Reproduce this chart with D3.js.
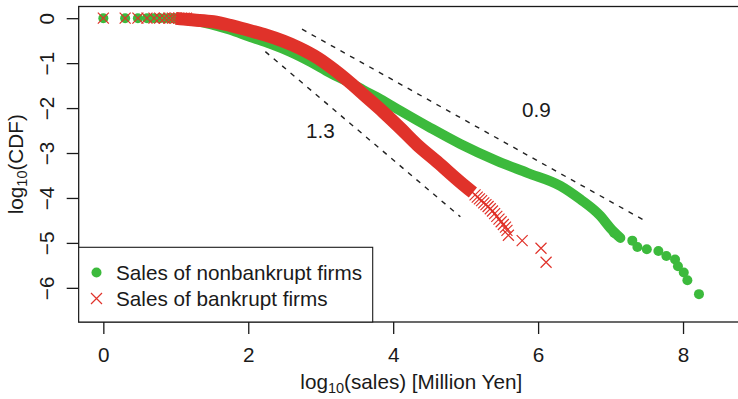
<!DOCTYPE html>
<html>
<head>
<meta charset="utf-8">
<script src="https://cdn.jsdelivr.net/npm/d3@7"></script>
<style>
  html, body { margin: 0; padding: 0; background: #ffffff; }
  svg { display: block; }
  text { font-family: "Liberation Sans", Arial, Helvetica, sans-serif; fill: #1a1a1a; }
</style>
</head>
<body>
<svg id="chart" width="738" height="399"></svg>
<script>
// ---- data: log10(sales) vs log10(CDF) ----
// smallest sales values (1, 2, 3, ... million yen) shared by both groups
const headX = [0, 0.301, 0.477, 0.602, 0.699, 0.778, 0.845, 0.903, 0.954, 1.0, 1.041, 1.079, 1.114, 1.146];
const headY = [0, 0, 0, 0, 0, 0, 0, 0, 0, 0, 0, 0, 0, 0];

// nonbankrupt firms: dense body and sparse upper tail
const greenBodyX = [1.0, 1.201, 1.477, 1.753, 2.029, 2.305, 2.581, 2.857, 3.133, 3.409, 3.588, 3.823, 4.099, 4.513, 4.927, 5.438, 5.851, 6.307, 6.583, 6.859, 6.997, 7.135];
const greenBodyY = [-0.01, -0.04, -0.13, -0.26, -0.42, -0.57, -0.75, -0.97, -1.22, -1.44, -1.60, -1.80, -2.06, -2.44, -2.80, -3.18, -3.44, -3.73, -4.03, -4.40, -4.67, -4.89];
const greenTailX = [7.05, 7.30, 7.37, 7.50, 7.66, 7.77, 7.89, 7.93, 8.01, 8.06, 8.22];
const greenTailY = [-4.78, -4.95, -5.09, -5.14, -5.18, -5.29, -5.37, -5.52, -5.66, -5.83, -6.14];

// bankrupt firms: dense body and sparse upper tail
const redBodyX = [1.0, 1.063, 1.25, 1.518, 1.75, 2.029, 2.25, 2.484, 2.70, 2.953, 3.18, 3.409, 3.64, 3.864, 4.10, 4.333, 4.610, 4.927, 5.10];
const redBodyY = [-0.005, -0.016, -0.04, -0.08, -0.16, -0.28, -0.38, -0.51, -0.66, -0.88, -1.14, -1.44, -1.77, -2.09, -2.45, -2.82, -3.20, -3.65, -3.88];
const redTailX = [5.13, 5.16, 5.19, 5.22, 5.25, 5.28, 5.31, 5.34, 5.37, 5.40, 5.43, 5.46, 5.49, 5.52, 5.55, 5.57, 5.59, 5.78, 6.04, 6.11];
const redTailY = [-3.93, -3.98, -4.02, -4.06, -4.11, -4.15, -4.19, -4.24, -4.29, -4.35, -4.41, -4.47, -4.53, -4.59, -4.65, -4.72, -4.83, -4.95, -5.12, -5.43];

// reference power-law slopes
const guideLabels = ["1.3", "0.9"];
const guideX1 = [2.236, 2.742];
const guideY1 = [-0.744, -0.245];
const guideX2 = [4.927, 7.457];
const guideY2 = [-4.419, -4.492];
const guideLabelX = [2.995, 5.976];
const guideLabelY = [-2.66, -2.20];

const xTicks = [0, 2, 4, 6, 8];
const yTicks = [0, -1, -2, -3, -4, -5, -6];

const seriesNames = ["Sales of nonbankrupt firms", "Sales of bankrupt firms"];

// ---- layout ----
const GREEN = "#3cba3c";
const RED = "#e0322a";
const INK = "#1a1a1a";
const FONT = 20.7;
const SUB = 14.5;
const box = { left: 78.7, right: 743.9, top: 6.5, bottom: 322 };

const svg = d3.select("#chart");
const x = d3.scaleLinear().domain([-0.34, 8.84]).range([box.left, box.right]);
const y = d3.scaleLinear().domain([0.26, -6.76]).range([box.top, box.bottom]);

svg.append("defs").append("clipPath").attr("id", "plotClip")
  .append("rect")
  .attr("x", box.left).attr("y", box.top)
  .attr("width", box.right - box.left).attr("height", box.bottom - box.top);

const plot = svg.append("g").attr("clip-path", "url(#plotClip)");

const zip = (xs, ys) => xs.map((v, i) => [v, ys[i]]);
const line = d3.line().x(d => x(d[0])).y(d => y(d[1])).curve(d3.curveMonotoneX);

const R_DOT = 5;
const CROSS = 5.5;
const crossPath = `M${-CROSS},${-CROSS}L${CROSS},${CROSS}M${-CROSS},${CROSS}L${CROSS},${-CROSS}`;

// nonbankrupt firms (filled dots); the dense body merges into a solid band
const greenHead = zip(headX, headY);
const greenBody = zip(greenBodyX, greenBodyY);
const greenTail = zip(greenTailX, greenTailY);
plot.append("path")
  .attr("d", line(greenBody))
  .attr("fill", "none").attr("stroke", GREEN)
  .attr("stroke-width", 2 * R_DOT).attr("stroke-linecap", "round").attr("stroke-linejoin", "round");
plot.append("g").selectAll("circle")
  .data(greenHead.concat(greenTail))
  .join("circle")
  .attr("cx", d => x(d[0])).attr("cy", d => y(d[1]))
  .attr("r", R_DOT).attr("fill", GREEN);

// bankrupt firms (crosses); the dense body merges into a solid band
const redHead = zip(headX, headY);
const redBody = zip(redBodyX, redBodyY);
const redTail = zip(redTailX, redTailY);
plot.append("path")
  .attr("d", line(redBody))
  .attr("fill", "none").attr("stroke", RED)
  .attr("stroke-width", 13).attr("stroke-linecap", "butt").attr("stroke-linejoin", "round");
plot.append("g").selectAll("path")
  .data(redHead.concat(redTail))
  .join("path")
  .attr("transform", d => `translate(${x(d[0])},${y(d[1])})`)
  .attr("d", crossPath)
  .attr("fill", "none").attr("stroke", RED).attr("stroke-width", 1.2);

// slope guides
const guides = guideLabels.map((t, i) => ({ t, x1: guideX1[i], y1: guideY1[i], x2: guideX2[i], y2: guideY2[i], lx: guideLabelX[i], ly: guideLabelY[i] }));
svg.append("g").selectAll("line")
  .data(guides).join("line")
  .attr("x1", d => x(d.x1)).attr("y1", d => y(d.y1))
  .attr("x2", d => x(d.x2)).attr("y2", d => y(d.y2))
  .attr("stroke", "#222").attr("stroke-width", 1.4).attr("stroke-dasharray", "5,6");
svg.append("g").selectAll("text")
  .data(guides).join("text")
  .attr("x", d => x(d.lx)).attr("y", d => y(d.ly))
  .attr("text-anchor", "middle").attr("font-size", FONT)
  .text(d => d.t);

// frame
svg.append("rect")
  .attr("x", box.left).attr("y", box.top)
  .attr("width", box.right - box.left).attr("height", box.bottom - box.top)
  .attr("fill", "none").attr("stroke", INK).attr("stroke-width", 1.3);

// axes
const fmt = v => (v < 0 ? "\u2212" + Math.abs(v) : String(v));
const xAxis = svg.append("g")
  .attr("transform", `translate(0,${box.bottom})`)
  .call(d3.axisBottom(x).tickValues(xTicks).tickSize(12).tickFormat(fmt));
xAxis.select(".domain").remove();
xAxis.selectAll(".tick line").attr("stroke", INK).attr("stroke-width", 1.3);
xAxis.selectAll(".tick text")
  .attr("font-family", null).attr("font-size", FONT).attr("fill", INK)
  .attr("dy", null).attr("y", 40);

const yAxis = svg.append("g")
  .attr("transform", `translate(${box.left},0)`)
  .call(d3.axisLeft(y).tickValues(yTicks).tickSize(12).tickFormat(fmt));
yAxis.select(".domain").remove();
yAxis.selectAll(".tick line").attr("stroke", INK).attr("stroke-width", 1.3);
yAxis.selectAll(".tick text")
  .attr("font-family", null).attr("font-size", FONT).attr("fill", INK)
  .attr("x", null).attr("dy", null)
  .attr("text-anchor", "middle")
  .attr("transform", `translate(${54 - box.left},0) rotate(-90)`);

// axis titles
const xTitle = svg.append("text")
  .attr("x", (box.left + box.right) / 2).attr("y", 389)
  .attr("text-anchor", "middle").attr("font-size", FONT);
xTitle.append("tspan").text("log");
xTitle.append("tspan").attr("font-size", SUB).attr("dy", 4).text("10");
xTitle.append("tspan").attr("dy", -4).text("(sales) [Million Yen]");

const yTitle = svg.append("text")
  .attr("transform", `translate(23,${(box.top + box.bottom) / 2}) rotate(-90)`)
  .attr("text-anchor", "middle").attr("font-size", FONT);
yTitle.append("tspan").text("log");
yTitle.append("tspan").attr("font-size", SUB).attr("dy", 4).text("10");
yTitle.append("tspan").attr("dy", -4).text("(CDF)");

// legend
const legend = svg.append("g");
legend.append("rect")
  .attr("x", box.left).attr("y", 247.3)
  .attr("width", 372.7 - box.left).attr("height", box.bottom - 247.3)
  .attr("fill", "#ffffff").attr("stroke", INK).attr("stroke-width", 1.1);
const rowY = [272.5, 298.5];
legend.append("circle").attr("cx", 96.5).attr("cy", rowY[0]).attr("r", R_DOT).attr("fill", GREEN);
legend.append("path").attr("transform", `translate(96.5,${rowY[1]})`).attr("d", crossPath)
  .attr("fill", "none").attr("stroke", RED).attr("stroke-width", 1.2);
legend.selectAll("text.lbl")
  .data(seriesNames).join("text")
  .attr("class", "lbl")
  .attr("x", 116).attr("y", (d, i) => rowY[i] + 7.3)
  .attr("font-size", FONT)
  .text(d => d);
</script>
</body>
</html>
